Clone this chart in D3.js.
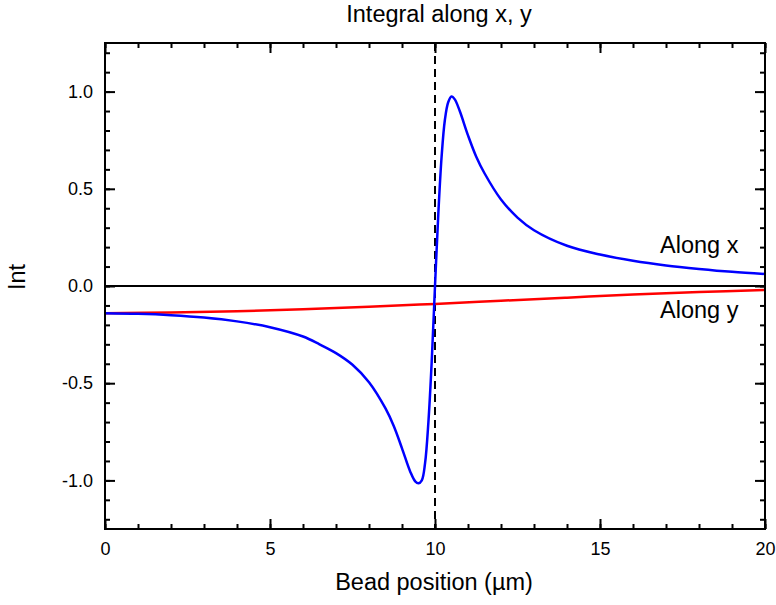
<!DOCTYPE html>
<html>
<head>
<meta charset="utf-8">
<script src="https://cdn.jsdelivr.net/npm/d3@7/dist/d3.min.js"></script>
<style>
  html, body { margin: 0; padding: 0; background: #fff; }
  svg { display: block; font-family: "Liberation Sans", Arial, sans-serif; }
</style>
</head>
<body>
<svg id="chart" width="776" height="605"></svg>
<script>
// Bead position (µm) and integrated field along x (blue) and along y (red)
const posX = [0, 1, 2, 3, 4, 5, 6, 6.5, 7, 7.5, 8, 8.5, 8.75, 9, 9.25, 9.4, 9.5, 9.6, 9.7, 9.8, 9.9,
  10, 10.1, 10.2, 10.3, 10.4, 10.5, 10.6, 10.75, 11, 11.25, 11.5, 12, 12.5, 13, 14, 15, 16, 17, 18, 19, 20];
const alongX = [-0.140, -0.143, -0.150, -0.162, -0.182, -0.212, -0.260, -0.300, -0.345, -0.405, -0.495, -0.630, -0.720, -0.835, -0.955, -1.005, -1.015, -1.000, -0.910, -0.700, -0.390,
  0.000, 0.370, 0.665, 0.855, 0.945, 0.975, 0.960, 0.900, 0.775, 0.665, 0.580, 0.445, 0.352, 0.287, 0.207, 0.162, 0.130, 0.106, 0.088, 0.073, 0.062];

const posY = [0, 2, 4, 6, 8, 10, 12, 14, 16, 18, 20];
const alongY = [-0.140, -0.136, -0.130, -0.120, -0.107, -0.092, -0.076, -0.060, -0.044, -0.031, -0.020];

const xMajor = [0, 5, 10, 15, 20];
const xMinor = d3.range(0, 21, 1);
const yMajor = [-1.0, -0.5, 0.0, 0.5, 1.0];
const yMinor = d3.range(-12, 13, 1).map(d => d / 10);

const svg = d3.select("#chart");
const W = 776, H = 605;
const m = { left: 105, right: 11, top: 43, bottom: 76 };

const x = d3.scaleLinear().domain([0, 20]).range([m.left, W - m.right]);
const y = d3.scaleLinear().domain([-1.25, 1.25]).range([H - m.bottom, m.top]);

const fontTick = 18, fontLabel = 23.5;

// zero reference line
svg.append("line")
  .attr("x1", x(0)).attr("x2", x(20))
  .attr("y1", y(0)).attr("y2", y(0))
  .attr("stroke", "#000").attr("stroke-width", 1.8);

// dashed marker at the bead centre
svg.append("line")
  .attr("x1", x(10)).attr("x2", x(10))
  .attr("y1", y(1.25)).attr("y2", y(-1.25))
  .attr("stroke", "#000").attr("stroke-width", 2)
  .attr("stroke-dasharray", "8,5");

const line = d3.line().x(d => x(d[0])).y(d => y(d[1])).curve(d3.curveCatmullRom.alpha(0.5));

svg.append("path")
  .datum(posY.map((p, i) => [p, alongY[i]]))
  .attr("d", line).attr("fill", "none")
  .attr("stroke", "#ff0000").attr("stroke-width", 2.5);

svg.append("path")
  .datum(posX.map((p, i) => [p, alongX[i]]))
  .attr("d", line).attr("fill", "none")
  .attr("stroke", "#0000ff").attr("stroke-width", 2.5);

// axes with inward ticks on all four sides
function styleAxis(g) {
  g.select(".domain").remove();
  g.selectAll(".tick line").attr("stroke", "#000").attr("stroke-width", 2);
  g.selectAll(".tick text").attr("fill", "#000").style("font-size", fontTick + "px")
    .style("font-family", "'Liberation Sans', Arial, sans-serif");
}

const fmtY = d => d3.format(".1f")(d).replace("\u2212", "-");
const yBottom = y(-1.25), yTop = y(1.25), xLeft = x(0), xRight = x(20);

svg.append("g").attr("transform", `translate(0,${yBottom})`)
  .call(d3.axisBottom(x).tickValues(xMinor).tickSize(-5).tickFormat(""))
  .call(styleAxis);
svg.append("g").attr("transform", `translate(0,${yBottom})`)
  .call(d3.axisBottom(x).tickValues(xMajor).tickSize(-10).tickPadding(13).tickFormat(d3.format("d")))
  .call(styleAxis);
svg.append("g").attr("transform", `translate(0,${yTop})`)
  .call(d3.axisTop(x).tickValues(xMinor).tickSize(-5).tickFormat(""))
  .call(styleAxis);
svg.append("g").attr("transform", `translate(0,${yTop})`)
  .call(d3.axisTop(x).tickValues(xMajor).tickSize(-10).tickFormat(""))
  .call(styleAxis);

svg.append("g").attr("transform", `translate(${xLeft},0)`)
  .call(d3.axisLeft(y).tickValues(yMinor).tickSize(-5).tickFormat(""))
  .call(styleAxis);
svg.append("g").attr("transform", `translate(${xLeft},0)`)
  .call(d3.axisLeft(y).tickValues(yMajor).tickSize(-10).tickPadding(12).tickFormat(fmtY))
  .call(styleAxis);
svg.append("g").attr("transform", `translate(${xRight},0)`)
  .call(d3.axisRight(y).tickValues(yMinor).tickSize(-5).tickFormat(""))
  .call(styleAxis);
svg.append("g").attr("transform", `translate(${xRight},0)`)
  .call(d3.axisRight(y).tickValues(yMajor).tickSize(-10).tickFormat(""))
  .call(styleAxis);

// plot frame
svg.append("rect")
  .attr("x", xLeft).attr("y", yTop)
  .attr("width", xRight - xLeft).attr("height", yBottom - yTop)
  .attr("fill", "none").attr("stroke", "#000").attr("stroke-width", 2);

// titles
svg.append("text").attr("x", 439).attr("y", 21.5)
  .attr("text-anchor", "middle").style("font-size", fontLabel + "px")
  .text("Integral along x, y");

svg.append("text").attr("x", 434).attr("y", 590)
  .attr("text-anchor", "middle").style("font-size", fontLabel + "px")
  .text("Bead position (µm)");

svg.append("text")
  .attr("transform", `translate(25,${y(0) - 9}) rotate(-90)`)
  .attr("text-anchor", "middle").style("font-size", fontLabel + "px")
  .text("Int");

// curve labels
svg.append("text").attr("x", 660).attr("y", 253)
  .style("font-size", fontLabel + "px").text("Along x");
svg.append("text").attr("x", 660).attr("y", 318)
  .style("font-size", fontLabel + "px").text("Along y");
</script>
</body>
</html>
